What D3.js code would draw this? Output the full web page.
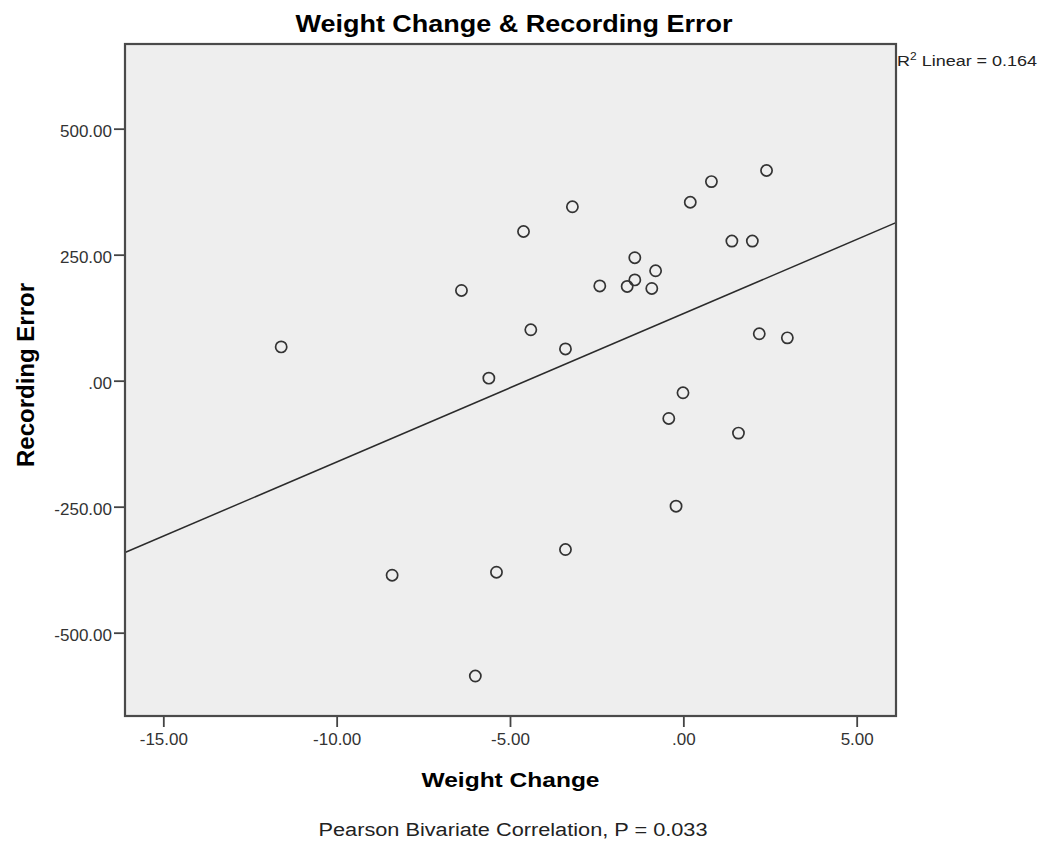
<!DOCTYPE html>
<html>
<head>
<meta charset="utf-8">
<script src="https://cdn.jsdelivr.net/npm/d3@7/dist/d3.min.js"></script>
<style>
  body { margin: 0; background: #fff; }
  text { font-family: "Liberation Sans", Arial, sans-serif; }
</style>
</head>
<body>
<div id="chart"></div>
<script>
// weight change (x) vs recording error (y)
var weightChange = [-11.60, -8.40, -6.40, -6.00, -5.61, -5.39, -4.61, -4.40, -3.40, -3.40,
    -3.20, -2.41, -1.62, -1.40, -1.40, -0.91, -0.80, -0.42, -0.21, -0.01,
    0.20, 0.81, 1.40, 1.59, 1.99, 2.19, 2.40, 3.00];
var recordingError = [67, -386, 179, -586, 5, -380, 296, 101, 63, -335,
    345, 188, 187, 244, 200, 183, 218, -75, -249, -24,
    354, 395, 277, -104, 277, 93, 417, 85];

var xTicks = [-15, -10, -5, 0, 5];
var yTicks = [-500, -250, 0, 250, 500];

// fit line as drawn in the reference
var fitIntercept = 133.0;
var fitSlope = 29.43;
var r2Text = "0.164";

var W = 1045, H = 844;
var margin = { top: 44, right: 149, bottom: 128, left: 125 };
var width = W - margin.left - margin.right;
var height = H - margin.top - margin.bottom;

var svg = d3.select("#chart").append("svg")
    .attr("width", W)
    .attr("height", H);

var g = svg.append("g")
    .attr("transform", "translate(" + margin.left + "," + margin.top + ")");

var x = d3.scaleLinear().domain([-16.105, 6.134]).range([0, width]);
var y = d3.scaleLinear().domain([-665.3, 668]).range([height, 0]);

// plot background
g.append("rect")
    .attr("width", width)
    .attr("height", height)
    .style("fill", "#eeeeee");

function fmt(v) {
    return v.toFixed(2).replace(/^(-?)0\./, "$1.");
}

var xAxis = g.append("g")
    .attr("transform", "translate(0," + height + ")")
    .call(d3.axisBottom(x).tickValues(xTicks).tickFormat(fmt).tickSize(11).tickPadding(4));

var yAxis = g.append("g")
    .call(d3.axisLeft(y).tickValues(yTicks).tickFormat(fmt).tickSize(11).tickPadding(2));

[xAxis, yAxis].forEach(function (ax) {
    ax.select(".domain").remove();
    ax.selectAll(".tick line").style("stroke", "#444").style("stroke-width", 1.8);
    ax.selectAll(".tick text")
        .style("font-size", "17px")
        .style("fill", "#333")
        .style("font-family", "'Liberation Sans', Arial, sans-serif");
});
xAxis.selectAll(".tick text").attr("dy", "0.85em");
yAxis.selectAll(".tick text").attr("dy", "0.45em");

// regression line
var xd = x.domain();
g.append("line")
    .attr("x1", x(xd[0]))
    .attr("y1", y(fitIntercept + fitSlope * xd[0]))
    .attr("x2", x(xd[1]))
    .attr("y2", y(fitIntercept + fitSlope * xd[1]))
    .style("stroke", "#2b2b2b")
    .style("stroke-width", 1.5);

// points
var pts = weightChange.map(function (d, i) { return { wc: d, re: recordingError[i] }; });
g.selectAll("circle.pt").data(pts).enter().append("circle")
    .attr("class", "pt")
    .attr("cx", function (d) { return x(d.wc); })
    .attr("cy", function (d) { return y(d.re); })
    .attr("r", 5.6)
    .style("fill", "none")
    .style("stroke", "#333")
    .style("stroke-width", 1.7);

// frame
g.append("rect")
    .attr("width", width)
    .attr("height", height)
    .style("fill", "none")
    .style("stroke", "#4a4a4a")
    .style("stroke-width", 2.2);

// title
svg.append("text")
    .attr("x", 514).attr("y", 32)
    .attr("text-anchor", "middle")
    .attr("textLength", 437).attr("lengthAdjust", "spacingAndGlyphs")
    .style("font-size", "23px").style("font-weight", "bold")
    .text("Weight Change & Recording Error");

// x label
svg.append("text")
    .attr("x", 510.5).attr("y", 787)
    .attr("text-anchor", "middle")
    .attr("textLength", 178).attr("lengthAdjust", "spacingAndGlyphs")
    .style("font-size", "20px").style("font-weight", "bold")
    .text("Weight Change");

// y label
svg.append("text")
    .attr("transform", "translate(34,375) scale(1.15,1) rotate(-90)")
    .attr("text-anchor", "middle")
    .attr("textLength", 184).attr("lengthAdjust", "spacingAndGlyphs")
    .style("font-size", "20px").style("font-weight", "bold")
    .text("Recording Error");

// footnote
svg.append("text")
    .attr("x", 513).attr("y", 836)
    .attr("text-anchor", "middle")
    .attr("textLength", 389).attr("lengthAdjust", "spacingAndGlyphs")
    .style("font-size", "18px").style("fill", "#222")
    .text("Pearson Bivariate Correlation, P = 0.033");

// R squared
var r2 = svg.append("g").attr("transform", "translate(897,66) scale(1.2,1)")
    .append("text")
    .style("font-size", "15px").style("fill", "#222");
r2.append("tspan").text("R");
r2.append("tspan").attr("dy", -6).style("font-size", "10px").text("2");
r2.append("tspan").attr("dy", 6).text(" Linear = " + r2Text);
</script>
</body>
</html>
